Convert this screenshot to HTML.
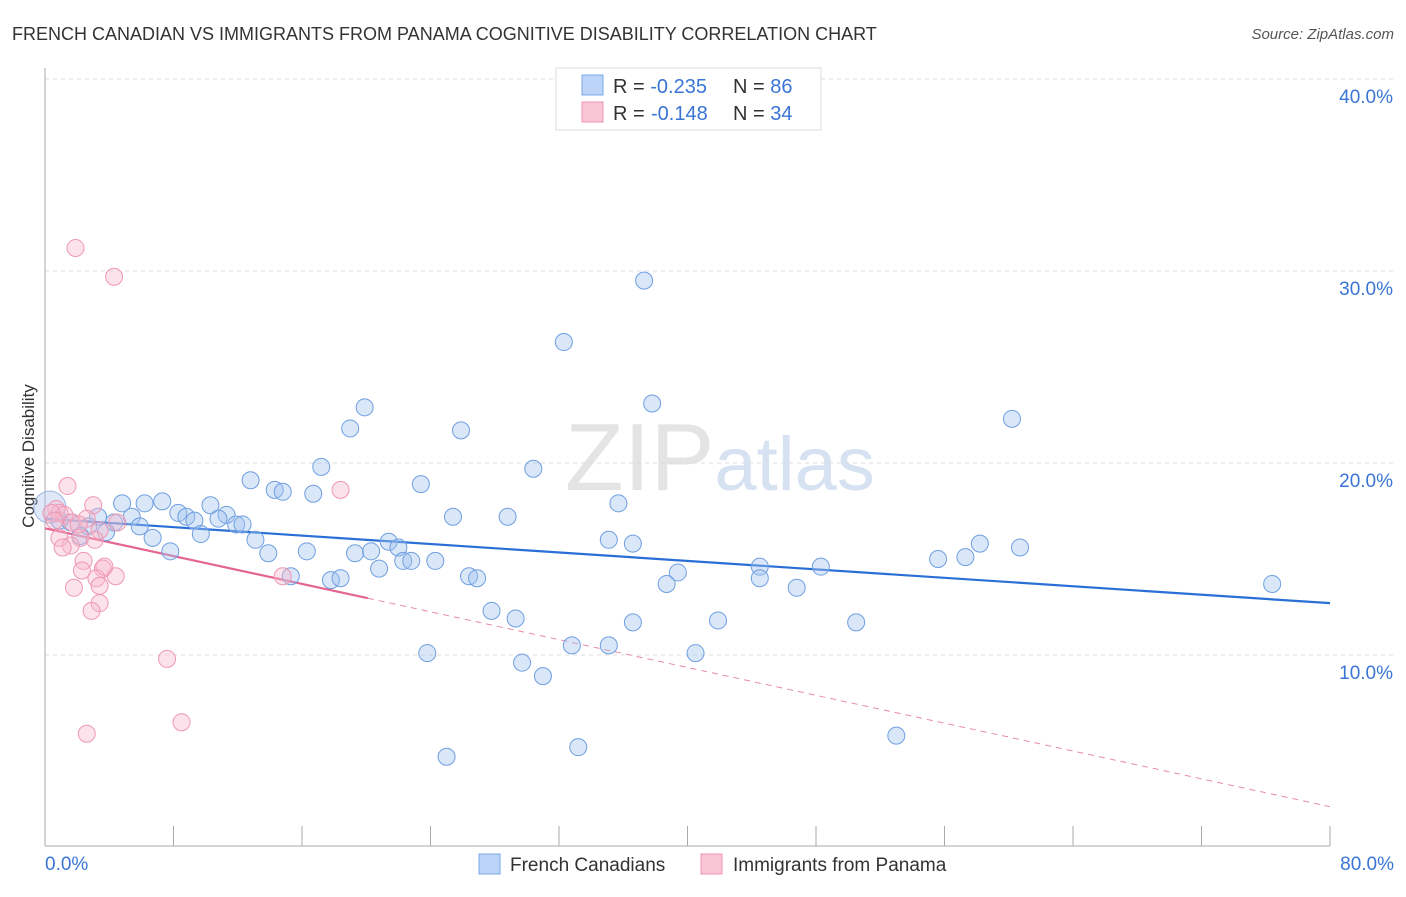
<!DOCTYPE html>
<html><head><meta charset="utf-8"><style>
body{margin:0;background:#fff;font-family:"Liberation Sans",sans-serif;}
svg text{font-family:"Liberation Sans",sans-serif;}
</style></head><body>
<svg id="chart" width="1406" height="892" xmlns="http://www.w3.org/2000/svg">
<text x="12" y="40" font-size="18" fill="#333">FRENCH CANADIAN VS IMMIGRANTS FROM PANAMA COGNITIVE DISABILITY CORRELATION CHART</text>
<text x="1394" y="39" font-size="15" fill="#555" text-anchor="end" font-style="italic">Source: ZipAtlas.com</text>
<text transform="translate(34,456) rotate(-90)" font-size="17" fill="#333" text-anchor="middle">Cognitive Disability</text>
<text x="720" y="490" font-size="96" fill="#e4e4e4" text-anchor="middle" font-family="Liberation Serif">ZIP<tspan fill="#d6e2f2" font-family="Liberation Sans" font-size="76">atlas</tspan></text>
<g id="grid"></g><g id="axes"></g><g id="lines"></g><g id="points"></g>
<g>
<rect x="556" y="68" width="265" height="62" fill="#fff" stroke="#ddd"/>
<rect x="582" y="75" width="21" height="20" fill="#bcd4f7" stroke="#7aa7e8"/>
<rect x="582" y="102" width="21" height="20" fill="#f9c6d5" stroke="#ee93ae"/>
<text x="613" y="93" font-size="20" fill="#333">R = <tspan fill="#3a75d6">-0.235</tspan><tspan x="733">N = </tspan><tspan fill="#3a75d6">86</tspan></text>
<text x="613" y="120" font-size="20" fill="#333">R = <tspan fill="#3a75d6" x="651">-0.148</tspan><tspan x="733">N = </tspan><tspan fill="#3a75d6">34</tspan></text>
</g>
<g>
<rect x="479" y="854" width="21" height="20" fill="#bcd4f7" stroke="#7aa7e8"/>
<text x="510" y="871" font-size="19" fill="#333">French Canadians</text>
<rect x="701" y="854" width="21" height="20" fill="#f9c6d5" stroke="#ee93ae"/>
<text x="733" y="871" font-size="19" fill="#333">Immigrants from Panama</text>
</g>
</svg>
<script>
const xTicks=[0,8,16,24,32,40,48,56,64,72,80];
const yTicks=[10,20,30,40];
const blueX=[37.3,32.3,19.9,19.0,25.9,37.8,60.2,17.2,30.4,12.8,23.4,14.3,14.8,16.7,4.8,6.2,7.3,10.3,35.7,8.3,8.8,11.3,3.3,5.4,10.8,9.3,25.4,28.8,11.9,12.3,4.3,5.9,2.7,3.8,0.9,1.6,6.7,9.7,13.1,2.2,7.8,13.9,16.3,19.3,20.3,21.4,22.0,22.3,22.8,24.3,35.1,36.6,58.2,60.7,57.3,55.6,20.8,44.5,48.3,15.3,17.8,18.4,26.4,26.9,39.4,38.7,44.5,46.8,76.4,27.8,29.3,36.6,41.9,50.5,32.8,35.1,23.8,40.5,29.7,31.0,33.2,25.0,53.0];
const blueY=[29.5,26.3,22.9,21.8,21.7,23.1,22.3,19.8,19.7,19.1,18.9,18.6,18.5,18.4,17.9,17.9,18.0,17.8,17.9,17.4,17.2,17.3,17.2,17.2,17.1,17.0,17.2,17.2,16.8,16.8,16.9,16.7,16.7,16.4,17.0,16.9,16.1,16.3,16.0,16.2,15.4,15.3,15.4,15.3,15.4,15.9,15.6,14.9,14.9,14.9,16.0,15.8,15.8,15.6,15.1,15.0,14.5,14.6,14.6,14.1,13.9,14.0,14.1,14.0,14.3,13.7,14.0,13.5,13.7,12.3,11.9,11.7,11.8,11.7,10.5,10.5,10.1,10.1,9.6,8.9,5.2,4.7,5.8];
const pinkX=[1.9,4.3,1.4,18.4,3.0,0.7,0.9,1.2,0.4,4.5,2.6,3.4,1.7,0.9,2.2,1.6,3.1,1.1,2.4,3.6,2.3,3.2,4.4,1.8,3.4,3.4,2.9,14.8,7.6,8.5,2.6,3.7,2.1,0.6];
const pinkY=[31.2,29.7,18.8,18.6,17.8,17.6,17.4,17.3,17.4,16.9,17.1,16.5,16.9,16.1,16.1,15.7,16.0,15.6,14.9,14.5,14.4,14.0,14.1,13.5,13.6,12.7,12.3,14.1,9.8,6.5,5.9,14.6,16.8,17.0];
const blueLine=[17.1,12.7];
const pinkLine=[16.6,2.1];
const pinkSolidEnd=20.1;
const sx=v=>45+v/80*1285;
const sy=v=>847-v*19.2;
const NS='http://www.w3.org/2000/svg';
function mk(tag,attrs,parent){const e=document.createElementNS(NS,tag);for(const k in attrs)e.setAttribute(k,attrs[k]);document.getElementById(parent).appendChild(e);return e;}
yTicks.forEach(t=>{
 const l=mk('line',{x1:45,x2:1394,y1:sy(t),y2:sy(t),stroke:'#ddd','stroke-dasharray':'4,4'},'grid');
 
 
 const tx=mk('text',{x:1393,y:sy(t)+24,'font-size':19,fill:'#3a75d6','text-anchor':'end'},'axes');
 tx.textContent=t.toFixed(1)+'%';
 
 
});
const ax=mk('line',{x1:45,x2:45,y1:68,y2:846,stroke:'#aaa'},'axes');


const bx=mk('line',{x1:45,x2:1330,y1:846,y2:846,stroke:'#aaa'},'axes');


xTicks.forEach(t=>{
 const l=mk('line',{x1:sx(t),x2:sx(t),y1:826,y2:846,stroke:'#aaa'},'axes');
 
 
});
[[0,'start',45],[80,'end',1394]].forEach(([v,a,x])=>{
 const tx=mk('text',{x:x,y:870,'font-size':19,fill:'#3a75d6','text-anchor':a},'axes');
 tx.textContent=v.toFixed(1)+'%';
 
 
});
const big=mk('circle',{cx:sx(0.3),cy:sy(17.7),r:16,fill:'rgba(160,190,235,0.35)',stroke:'#9fb8e0'},'points');


blueX.forEach((v,i)=>{
 const c=mk('circle',{cx:sx(v),cy:sy(blueY[i]),r:8.5,fill:'rgba(160,195,240,0.4)',stroke:'#6f9fe0','stroke-width':1},'points');
 
 
});
pinkX.forEach((v,i)=>{
 const c=mk('circle',{cx:sx(v),cy:sy(pinkY[i]),r:8.5,fill:'rgba(248,185,205,0.4)',stroke:'#ef98b3','stroke-width':1},'points');
 
 
});
const bl=mk('line',{x1:sx(0),y1:sy(blueLine[0]),x2:sx(80),y2:sy(blueLine[1]),stroke:'#2a6fd6','stroke-width':2.2},'lines');


const pAt=x=>pinkLine[0]+(pinkLine[1]-pinkLine[0])*x/80;
const pl=mk('line',{x1:sx(0),y1:sy(pAt(0)),x2:sx(pinkSolidEnd),y2:sy(pAt(pinkSolidEnd)),stroke:'#e56590','stroke-width':2.2},'lines');


const pd=mk('line',{x1:sx(pinkSolidEnd),y1:sy(pAt(pinkSolidEnd)),x2:sx(80),y2:sy(pAt(80)),stroke:'#e88aa8','stroke-width':1,'stroke-dasharray':'6,5'},'lines');


</script>
</body></html>
